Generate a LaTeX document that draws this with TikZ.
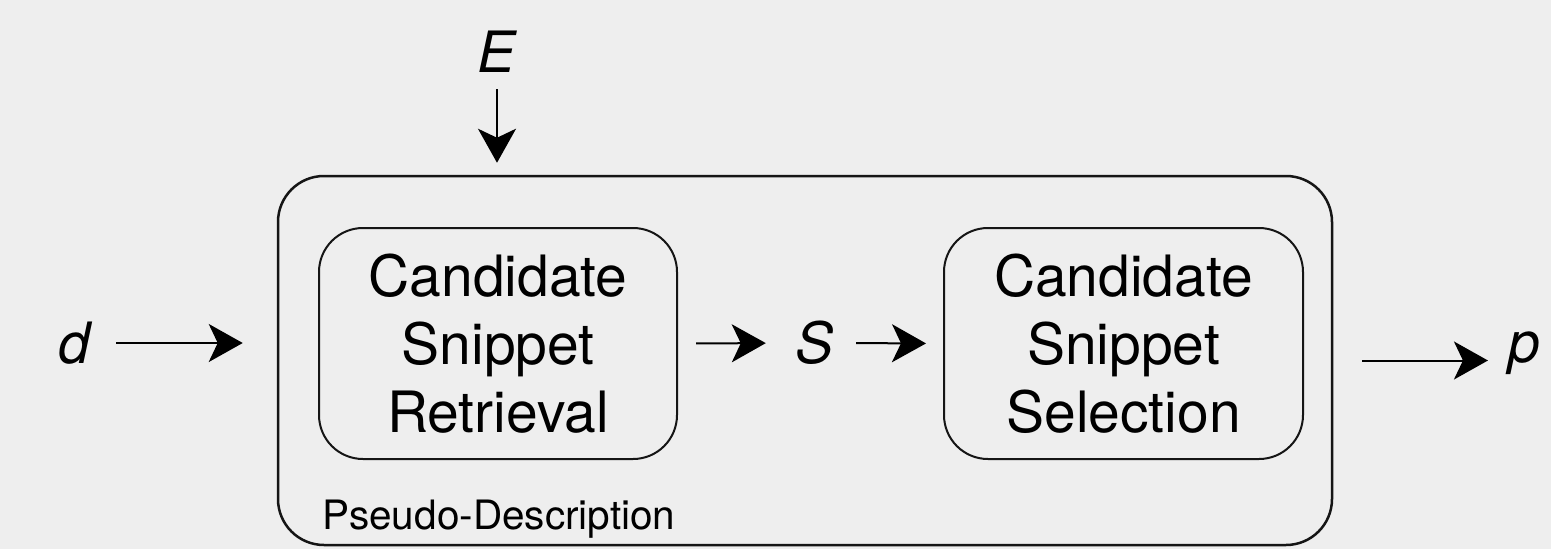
\documentclass[tikz,border=0pt]{standalone}
\usepackage{fontspec}
\setmainfont{TeX Gyre Heros}
\usetikzlibrary{arrows.meta}
\definecolor{bg}{HTML}{EEEEEE}
\definecolor{ln}{HTML}{151515}
\begin{document}
\begin{tikzpicture}[x=1pt,y=-1pt,
  box/.style={draw=ln, line width=2pt, rounded corners=44pt, minimum width=358pt, minimum height=231pt, align=center, inner sep=0pt, font=\fontsize{57}{68}\selectfont},
  lbl/.style={inner sep=0pt, font=\fontsize{57}{68}\selectfont\itshape},
  arr/.style={draw=black, line width=2pt, -{Stealth[length=34pt,width=38pt,inset=9pt]}}]
\fill[bg] (0,0) rectangle (1551,549);
\useasboundingbox (0,0) rectangle (1551,549);
\node[draw=ln, line width=2.5pt, rounded corners=46pt, minimum width=1054pt, minimum height=369pt, inner sep=0pt] (outer) at (805,360.5) {};
\node[box] (ret) at (498,343.5) {Candidate\\Snippet\\Retrieval};
\node[box, minimum width=359pt] (sel) at (1123.5,343.5) {Candidate\\Snippet\\Selection};
\node[anchor=base west, inner sep=0pt, font=\fontsize{40.5}{48}\selectfont] (pd) at (322,529) {Pseudo-Description};
\node[lbl] (d) at (74,343) {d};
\node[lbl] (S) at (815,343) {S};
\node[lbl, anchor=base] (p) at (1524,362) {p};
\node[lbl, anchor=base] (E) at (497,72) {E};
\draw[arr, shorten <=26pt, shorten >=34pt] (d.east) -- (d.east -| outer.west);
\draw[arr, shorten <=18pt, shorten >=30pt] (ret.east) -- (S.west);
\draw[arr, shorten <=22pt, shorten >=17pt] (S.east) -- (sel.west);
\draw[arr, shorten <=29pt, shorten >=20pt] (outer.east) -- (p.west |- outer.east);
\draw[arr, shorten <=17pt, shorten >=12pt] (E.south) -- (E.south |- outer.north);
\end{tikzpicture}
\end{document}
